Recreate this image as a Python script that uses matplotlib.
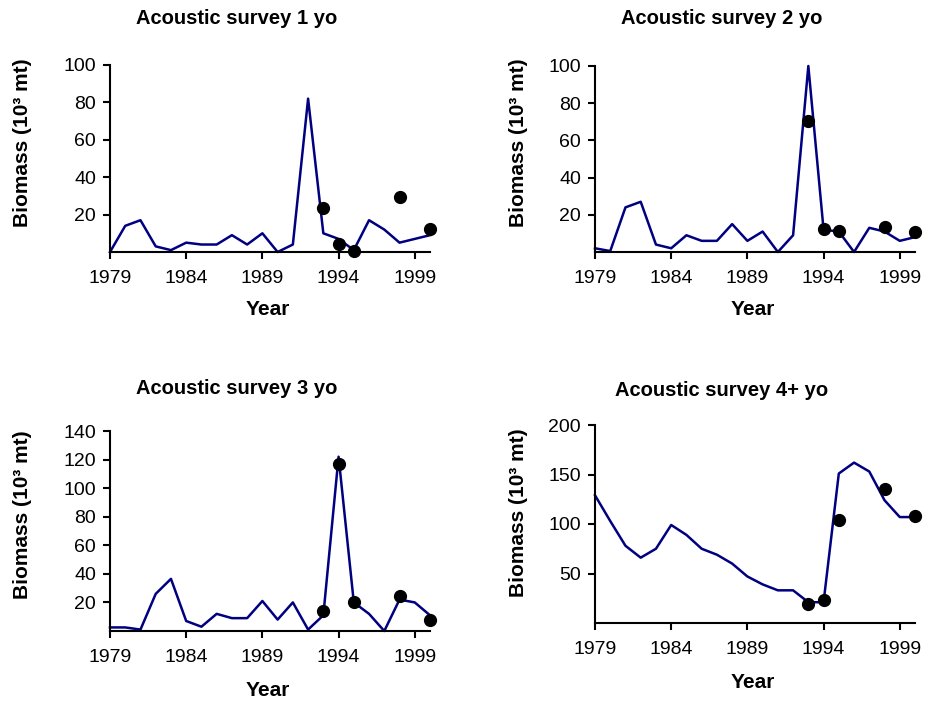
import numpy as np
import matplotlib
matplotlib.use("Agg")
import matplotlib.pyplot as plt

plt.rcParams['font.family'] = ['Liberation Sans', 'DejaVu Sans']

years = np.arange(1979, 2001)
survey_years = [1993, 1994, 1995, 1998, 2000]

# model fit (line) and observed acoustic survey biomass (dots), 10^3 mt
fit_age1 = [0, 14, 17, 3, 1, 5, 4, 4, 9, 4, 10, 0, 4, 82, 10, 7, 1, 17, 12, 5, 7, 9]
obs_age1 = [23.5, 4.5, 0.5, 29.5, 12.5]

fit_age2 = [2, 0.5, 24, 27, 4, 2, 9, 6, 6, 15, 6, 11, 0, 9, 100, 12, 11, 0, 13, 11, 6, 8]
obs_age2 = [70.5, 12.5, 11.5, 13.5, 10.5]

fit_age3 = [2.5, 2.5, 1, 26, 36.5, 7, 3, 12, 9, 9, 21, 8, 20, 1, 11, 122, 20, 12, 0, 22, 20, 11]
obs_age3 = [13.8, 117, 20.3, 24.5, 7.5]

fit_age4 = [129, 103, 78, 66, 75, 99, 89, 75, 69, 60, 47, 39, 33, 33, 21, 21, 151, 162, 153, 124, 107, 107]
obs_age4 = [19.5, 23, 104.5, 135, 108.5]

titles = ["Acoustic survey 1 yo", "Acoustic survey 2 yo",
          "Acoustic survey 3 yo", "Acoustic survey 4+ yo"]
yticks = [[20, 40, 60, 80, 100], [20, 40, 60, 80, 100],
          [20, 40, 60, 80, 100, 120, 140], [50, 100, 150, 200]]
xticks = [1979, 1984, 1989, 1994, 1999]

W, H = 925, 703
fig = plt.figure(figsize=(W / 100, H / 100), dpi=100)

# pixel boxes: left, top, right, bottom; then title y, ylabel x/y, xlabel y
panels = [
    dict(box=(110, 65, 430, 252), title_y=18, ylab=(23, 143), xlab_y=310),
    dict(box=(595, 66, 915, 252), title_y=18, ylab=(519, 143), xlab_y=310),
    dict(box=(110, 431, 430, 631), title_y=388, ylab=(23, 515), xlab_y=690),
    dict(box=(595, 425, 915, 623), title_y=390, ylab=(519, 513), xlab_y=682),
]
fits = [fit_age1, fit_age2, fit_age3, fit_age4]
obs = [obs_age1, obs_age2, obs_age3, obs_age4]

for i, p in enumerate(panels):
    l, t, r, b = p['box']
    ax = fig.add_axes([l / W, 1 - b / H, (r - l) / W, (b - t) / H])
    ax.plot(years, fits[i], color='#000080', lw=1.8, clip_on=False, zorder=2)
    ax.plot(survey_years, obs[i], 'o', color='black', ms=8.5, clip_on=False, zorder=3)
    ax.set_xlim(1979, 2000)
    ax.set_ylim(0, yticks[i][-1])
    ax.set_xticks(xticks)
    ax.set_yticks(yticks[i])
    for s in ['top', 'right']:
        ax.spines[s].set_visible(False)
    for s in ['left', 'bottom']:
        ax.spines[s].set_linewidth(1.5)
    ax.tick_params(axis='both', direction='out', length=5, width=1.5, labelsize=14)
    ax.tick_params(axis='x', pad=8)
    ax.tick_params(axis='y', pad=5)

    fig.text((l + 0.397 * (r - l)) / W, 1 - p['title_y'] / H, titles[i],
             ha='center', va='center', fontsize=14.5, fontweight='bold')
    fig.text(p['ylab'][0] / W, 1 - p['ylab'][1] / H, "Biomass (10³ mt)",
             ha='center', va='center', rotation=90, fontsize=15, fontweight='bold')
    fig.text((l + 0.494 * (r - l)) / W, 1 - p['xlab_y'] / H, "Year",
             ha='center', va='center', fontsize=15, fontweight='bold')

fig.savefig("out.png", dpi=100)
